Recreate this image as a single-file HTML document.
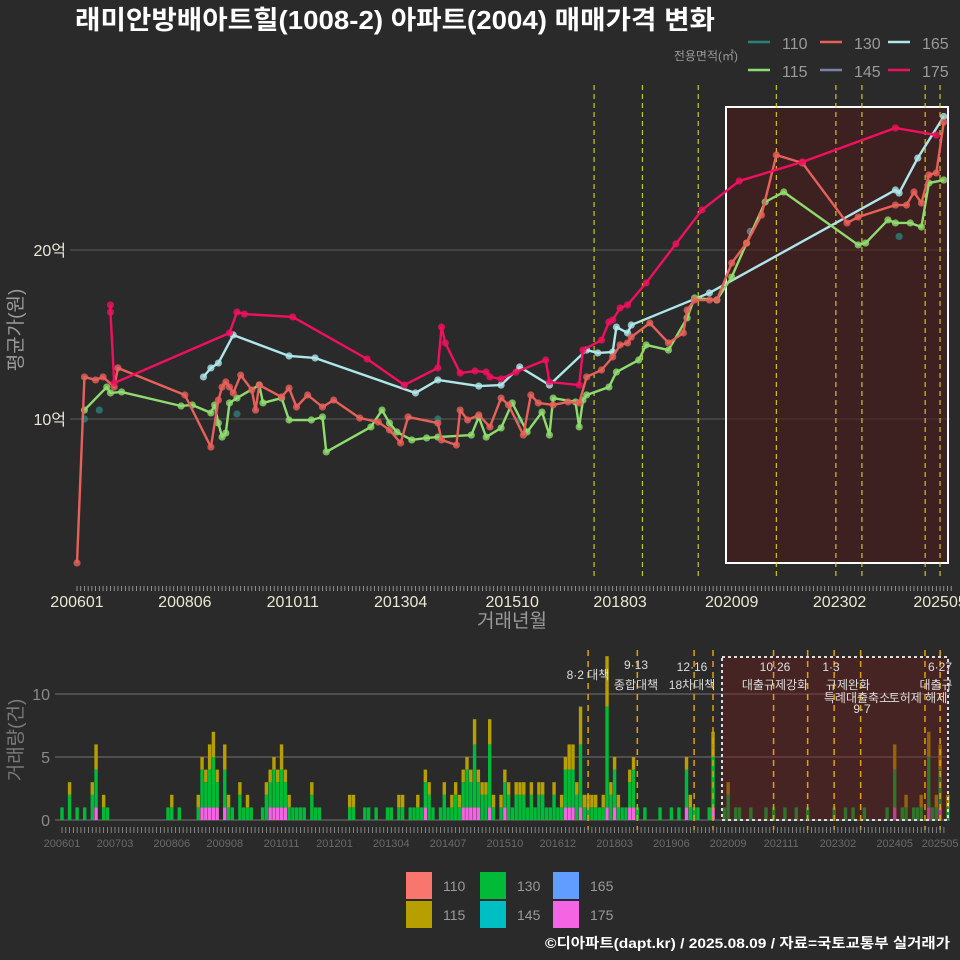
<!DOCTYPE html>
<html><head><meta charset="utf-8">
<style>
html,body{margin:0;padding:0;background:#2b2a2a;}
svg{display:block;font-family:"Liberation Sans","Noto Sans CJK KR",sans-serif;}
</style></head>
<body>
<svg id="chart" width="960" height="960" viewBox="0 0 960 960" xmlns="http://www.w3.org/2000/svg">
<rect width="960" height="960" fill="#2b2a2a"/>
<text x="75" y="29" fill="#ffffff" font-size="26" font-weight="bold" textLength="640" lengthAdjust="spacingAndGlyphs">래미안방배아트힐(1008-2) 아파트(2004) 매매가격 변화</text>
<g id="topPanel"></g>
<g id="bottomPanel"></g>
<g id="legendTop"></g>
<g id="legendBottom"></g>
<text x="950" y="948" text-anchor="end" fill="#ffffff" font-size="14" font-weight="bold" textLength="405" lengthAdjust="spacingAndGlyphs">©디아파트(dapt.kr) / 2025.08.09 / 자료=국토교통부 실거래가</text>
</svg>
<script>
// ---------- price data (YYYYMM, 억) ----------
const s175Dates=["200610","200610","200611","200906","200908","200910","201011","201207","201305","201402","201403","201404","201408","201412","201503","201504","201507","201511","201607","201608","201704","201705","201710","201712","201801","201803","201805","201810","201906","202001","202011","202204","202405","202504"];
const s175Vals=[16.75,16.33,12.13,15.09,16.33,16.21,16.04,13.55,12.01,13.02,15.44,14.5,12.72,12.84,12.78,12.49,12.37,12.78,13.49,12.19,12.01,14.08,14.67,15.74,15.86,16.57,16.75,18.05,20.36,22.37,24.08,25.21,27.22,26.8];
const s165Dates=["200811","200901","200903","200907","201010","201105","201308","201402","201501","201507","201512","201608","201706","201709","201801","201802","201805","201806","202003","202405","202406","202411","202506"];
const s165Vals=[12.49,13.02,13.31,14.97,13.73,13.61,11.54,12.31,11.95,12.01,13.08,12.01,14.08,13.91,13.96,15.44,15.09,15.56,17.46,23.55,23.37,25.44,27.9];
const s115Dates=["200603","200609","200610","200701","200805","200808","200901","200902","200903","200904","200905","200906","200908","201002","201003","201008","201010","201104","201107","201108","201208","201211","201301","201303","201307","201311","201402","201411","201501","201503","201507","201510","201602","201606","201608","201609","201703","201704","201705","201706","201712","201802","201808","201810","201904","201909","201911","202005","202009","202101","202106","202111","202307","202309","202403","202405","202409","202412","202502","202506"];
const s115Vals=[10.53,11.89,11.54,11.6,10.77,10.83,10.36,10.83,9.76,8.93,9.17,10.95,11.24,12.01,10.95,11.24,9.94,9.94,10.12,8.05,9.53,10.53,9.76,9.23,8.76,8.88,8.93,9.05,10.12,8.93,9.47,10.95,9.23,10.41,9.05,11.24,11.01,9.53,11.12,11.42,11.89,12.78,13.49,14.38,14.08,15.98,17.16,17.04,18.4,20.41,22.84,23.43,20.3,20.41,21.78,21.6,21.6,21.36,23.96,24.14];
const s130Dates=["200601","200603","200606","200608","200611","200612","200806","200901","200903","200904","200905","200906","200907","200909","200912","201001","201002","201008","201010","201012","201103","201107","201110","201205","201210","201301","201304","201306","201402","201403","201407","201408","201410","201501","201504","201507","201509","201601","201603","201605","201609","201701","201704","201706","201710","201801","201803","201805","201806","201811","201904","201908","201909","201911","202003","202005","202009","202101","202105","202109","202204","202304","202307","202405","202408","202410","202412","202502","202504","202506"];
const s130Vals=[1.48,12.49,12.31,12.49,11.89,13.02,11.42,8.34,11.12,11.89,12.19,11.89,11.54,12.6,11.72,10.53,12.01,11.3,11.83,10.71,11.42,10.71,11.12,10.06,9.82,9.35,8.58,10.12,9.76,8.76,8.46,10.53,9.94,10.24,9.53,11.24,10.83,9.05,11.42,10.95,10.83,11.01,10.95,12.49,12.9,13.67,14.38,14.5,14.85,15.68,14.5,15.09,16.45,17.04,17.04,17.04,19.23,20.41,22.07,25.62,25.15,21.6,21.95,22.66,22.66,23.43,22.78,24.44,24.56,27.57];
const s110Dates=["200603","200607","200908","201402","201512","202406"];
const s110Vals=[10.0,10.53,10.3,10.0,9.94,20.8];
const s145Dates=["202102"];
const s145Vals=[21.1];
const policyTop=["201708","201809","201912","202109","202301","202308","202501","202505"];
const xTickLabelsTop=["200601","200806","201011","201304","201510","201803","202009","202302","202505"];
const yTickVals=[10,20];
const yTickLabels=["10억","20억"];

// ---------- volume data (months since 2006-01) ----------
const volMonthIndex=[0,2,4,6,8,9,11,12,28,29,31,36,37,38,39,40,41,43,44,45,47,48,49,50,53,54,55,56,57,58,59,60,61,62,63,64,66,67,68,76,77,80,81,83,86,87,89,90,92,93,94,95,96,97,98,100,101,102,103,104,105,106,107,108,109,110,111,112,113,114,116,117,118,119,120,121,122,123,124,125,126,127,128,129,130,131,132,133,134,135,136,137,138,139,140,141,142,143,144,145,146,147,148,149,150,151,152,154,158,161,163,165,166,167,168,171,172,175,176,178,179,182,186,188,191,194,197,204,207,209,212,218,220,222,223,225,226,227,229,230,231,232,234];
const vol130=[1,2,1,1,2,3,1,1, 1,1,1, 1,3,2,3,4,2,3,1,1,2,1,1,1, 1,2,2,3,2,3,2,1,1,1,1,1,2,1,1, 1,1,1,1,1,1,1,1,1,1,1,1,1,2,2,1, 1,2,1,1,2,1,2,3,2,5,2,2,2,5,1, 1,2,2,1,2,2,2,1,2,1,2,2,1,1,2,1,1,3,3,3,2,5,1,1,1,1,1,1,8,2,3,1,1,1,2,3,1, 1,1,1,1,3,1,1,1,1,4, 1,2,1,1,1,1,1,1,1,1, 1,1,1,1,1,3,1,1,1,1,1,4,1,1,3,1];
const vol115=[0,1,0,0,1,2,1,0, 0,1,0, 1,1,1,2,2,1,2,1,0,1,0,1,0, 0,1,1,1,1,2,1,1,0,0,0,0,1,0,0, 1,1,0,0,0,0,0,1,1,0,0,1,0,1,1,0, 0,1,0,1,1,1,1,1,1,2,1,1,1,2,1, 1,1,1,0,1,1,1,0,1,0,1,1,0,0,1,0,1,1,2,2,1,3,1,1,1,1,0,1,4,1,1,1,0,0,1,1,0, 0,0,0,0,1,1,0,0,0,2, 0,1,0,0,0,0,0,0,0,0, 0,0,0,0,0,2,0,1,0,0,1,2,0,1,2,1];
const vol175=[0,0,0,0,0,1,0,0, 0,0,0, 0,1,1,1,1,1,1,0,0,0,0,0,0, 0,0,1,1,1,1,1,0,0,0,0,0,0,0,0, 0,0,0,0,0,0,0,0,0,0,0,0,0,1,0,0, 0,0,0,0,0,0,1,1,1,1,1,0,0,1,0, 0,1,0,0,0,0,0,0,0,0,0,0,0,0,0,0,0,1,1,1,0,1,0,0,0,0,0,0,1,0,1,0,0,0,1,1,0, 0,0,0,0,1,0,0,0,0,1, 0,0,0,0,0,0,0,0,0,0, 0,0,0,0,0,1,0,0,0,0,0,1,0,0,1,0];
const policyBottom=["201708","201809","201912","202005","202109","202206","202301","202308","202501","202505"];
const xTickLabelsBottom=["200601","200703","200806","200908","201011","201201","201304","201407","201510","201612","201803","201906","202009","202111","202302","202405","202505"];
const yTickVolVals=[0,5,10];

// ---------- helpers ----------
const NS="http://www.w3.org/2000/svg";
function mk(tag,attrs,parent){const e=document.createElementNS(NS,tag);for(const k in attrs)e.setAttribute(k,attrs[k]);parent.appendChild(e);return e;}
function mIdx(s){return (parseInt(s.slice(0,4))-2006)*12+parseInt(s.slice(4,6))-1;}
const xT=m=>77+m*3.72;
const yT=v=>419-(v-10)*16.9;
const xB=m=>62+m*3.785;
const yB=c=>820-c*12.6;

const topG=document.getElementById('topPanel');
yTickVals.forEach((v,i)=>{
  const g=mk('line',{x1:70,x2:950,y1:yT(v),y2:yT(v),stroke:'#5a5a5a','stroke-width':1},topG);
  
  
  const t=mk('text',{x:66,y:yT(v)+6,'text-anchor':'end',fill:'#e8e8d8','font-size':16},topG);
  t.textContent=yTickLabels[i];
  
  
});
const sh=mk('rect',{x:726,y:107,width:222,height:456,fill:'#4a1c1c','fill-opacity':0.6,stroke:'#ffffff','stroke-width':2},topG);


policyTop.forEach(d=>{
  const l=mk('line',{x1:xT(mIdx(d)),x2:xT(mIdx(d)),y1:85,y2:578,stroke:'#e8e020','stroke-width':1.2,'stroke-dasharray':'5,4','stroke-opacity':0.85},topG);
  
  
});
for(let m=0;m<=235;m++){
  const t=mk('line',{x1:xT(m),x2:xT(m),y1:586,y2:591,stroke:'#aaaaaa','stroke-width':0.8},topG);
  
  
}
xTickLabelsTop.forEach(d=>{
  const t=mk('text',{x:xT(mIdx(d)),y:607,'text-anchor':'middle',fill:'#e8e8d0','font-size':16},topG);
  t.textContent=d;
  
  
});
let tt=mk('text',{x:512,y:627,'text-anchor':'middle',fill:'#9a9a9a','font-size':19},topG);
tt.textContent='거래년월';


tt=mk('text',{x:0,y:0,'text-anchor':'middle',fill:'#9a9a9a','font-size':19,transform:'translate(22,330) rotate(-90)'},topG);
tt.textContent='평균가(원)';



function series(dates,vals,color,name,line){
  const g=mk('g',{},topG);
  
  
  const pts=dates.map((d,i)=>[xT(mIdx(d)),yT(vals[i])]);
  if(line){
    const p=mk('polyline',{points:pts.map(p=>p.join(',')).join(' '),fill:'none',stroke:color,'stroke-width':2.4,'stroke-linejoin':'round'},g);
    
    
  }
  pts.forEach(p=>{
    const c=mk('circle',{cx:p[0],cy:p[1],r:3.6,fill:color,'fill-opacity':0.8},g);
    
    
  });
}
series(s110Dates,s110Vals,'#2c7f7d','series-110',false);
series(s145Dates,s145Vals,'#7a82a8','series-145',false);
series(s165Dates,s165Vals,'#aee6ea','series-165',true);
series(s115Dates,s115Vals,'#8fdc6e','series-115',true);
series(s130Dates,s130Vals,'#e8605a','series-130',true);
series(s175Dates,s175Vals,'#f0105f','series-175',true);

// ---------- bottom ----------
const botG=document.getElementById('bottomPanel');
yTickVolVals.forEach(v=>{
  const g=mk('line',{x1:55,x2:950,y1:yB(v),y2:yB(v),stroke:'#666666','stroke-width':1.2},botG);
  
  
  const t=mk('text',{x:50,y:yB(v)+6,'text-anchor':'end',fill:'#8a8a8a','font-size':16},botG);
  t.textContent=v;
  
  
});
volMonthIndex.forEach((m,i)=>{
  let base=0;
  [[vol175[i],'#f564e3','bar-175'],[vol130[i],'#00ba38','bar-130'],[vol115[i],'#b79f00','bar-115']].forEach(s=>{
    if(s[0]>0){
      const r=mk('rect',{x:xB(m)-1.7,y:yB(base+s[0]),width:3.4,height:s[0]*12.6,fill:s[1]},botG);
      
      
      base+=s[0];
    }
  });
});
const sh2=mk('rect',{x:722,y:657,width:226,height:163,fill:'#6a1c1c','fill-opacity':0.45,stroke:'#dddddd','stroke-width':2,'stroke-dasharray':'3,3'},botG);


policyBottom.forEach(d=>{
  const l=mk('line',{x1:xB(mIdx(d)),x2:xB(mIdx(d)),y1:650,y2:830,stroke:'#e69f00','stroke-width':1.5,'stroke-dasharray':'6,5'},botG);
  
  
});
const ann=[["8·2 대책",588,679],["9·13",636,669],["종합대책",636,689],["12·16",692,671],["18차대책",692,689],["10·26",775,671],["대출규제강화",775,689],["1·3",831,671],["규제완화",848,689],["9·7",862,713],["특례대출축소",857,702],["토허제 해제",918,702],["6·27",940,671],["대출규",936,689]];
ann.forEach(a=>{
  const t=mk('text',{x:a[1],y:a[2],'text-anchor':'middle',fill:'#dddddd','font-size':12},botG);
  t.textContent=a[0];
  
  
});
for(let m=0;m<=233;m++){
  const t=mk('line',{x1:xB(m),x2:xB(m),y1:827,y2:833,stroke:'#999999','stroke-width':0.8},botG);
  
  
}
xTickLabelsBottom.forEach(d=>{
  const t=mk('text',{x:xB(mIdx(d)),y:847,'text-anchor':'middle',fill:'#6a6a6a','font-size':11},botG);
  t.textContent=d;
  
  
});
tt=mk('text',{x:0,y:0,'text-anchor':'middle',fill:'#7a7a7a','font-size':19,transform:'translate(22,740) rotate(-90)'},botG);
tt.textContent='거래량(건)';



// ---------- legends ----------
const lt=document.getElementById('legendTop');
tt=mk('text',{x:738,y:60,'text-anchor':'end',fill:'#9a9a9a','font-size':12},lt);
tt.textContent='전용면적(㎡)';


[["110",'#2c7f7d',748,42],["130",'#e8605a',820,42],["165",'#aee6ea',888,42],["115",'#8fdc6e',748,70],["145",'#7a82a8',820,70],["175",'#f0105f',888,70]].forEach(e=>{
  const g=mk('g',{},lt);
  
  
  mk('line',{x1:e[2],x2:e[2]+22,y1:e[3],y2:e[3],stroke:e[1],'stroke-width':2.5},g);
  const t=mk('text',{x:e[2]+34,y:e[3]+7,fill:'#9a9a9a','font-size':16},g);
  t.textContent=e[0];
});
const lb=document.getElementById('legendBottom');
[["110",'#f8766d',406,872],["115",'#b79f00',406,901],["130",'#00ba38',480,872],["145",'#00bfc4',480,901],["165",'#619cff',553,872],["175",'#f564e3',553,901]].forEach(e=>{
  const g=mk('g',{},lb);
  
  
  mk('rect',{x:e[2],y:e[3],width:26,height:27,fill:e[1]},g);
  const t=mk('text',{x:e[2]+37,y:e[3]+19,fill:'#9a9a9a','font-size':14},g);
  t.textContent=e[0];
});
</script>
</body></html>
